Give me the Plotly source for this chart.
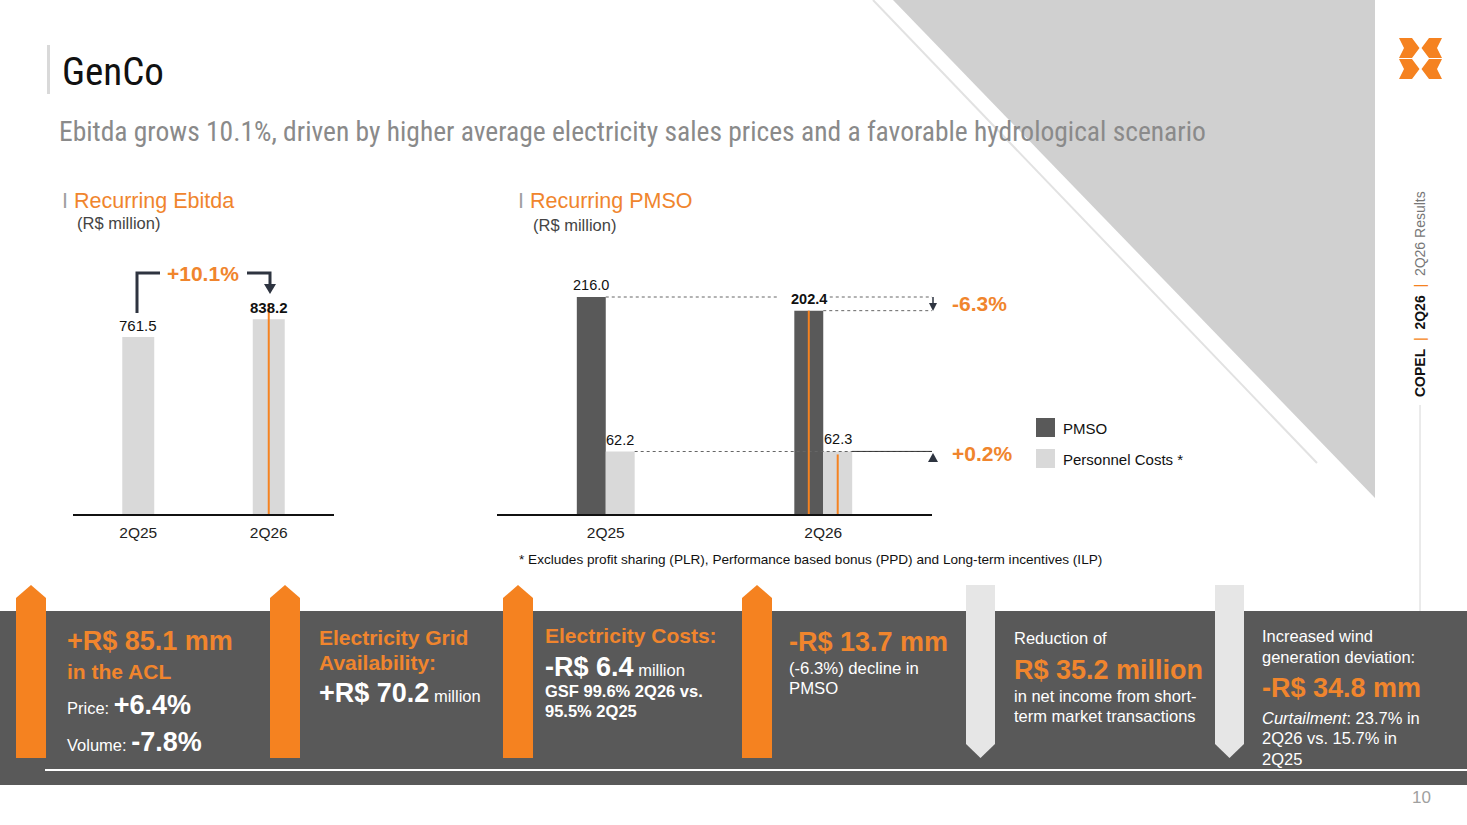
import plotly.graph_objects as go

# ---- data ----
quarters = ["2Q25", "2Q26"]
ebitda = [761.5, 838.2]
pmso = [216.0, 202.4]
personnel = [62.2, 62.3]
ebitda_var = "+10.1%"
pmso_var = "-6.3%"
personnel_var = "+0.2%"

W, H = 1467, 825
ORANGE = "#F58220"
ORANGE_TXT = "#F0852D"
DARK = "#595959"
LIGHT = "#D9D9D9"
NAVY = "#2E3440"
FONT = "Liberation Sans, Arial, sans-serif"
NARROW = "Roboto Condensed, DejaVu Sans Condensed, Liberation Sans, sans-serif"


def X(p):
    return p / W


def Y(p):
    return 1 - p / H


idx = list(range(len(quarters)))
BW = 0.133  # width of each PMSO bar (category units)

fig = go.Figure()

# Recurring Ebitda
fig.add_trace(go.Bar(x=idx, y=ebitda, xaxis="x", yaxis="y", width=0.245,
                     marker=dict(color=LIGHT, line=dict(width=0)),
                     hoverinfo="skip", showlegend=False))
# Recurring PMSO
fig.add_trace(go.Bar(x=idx, y=pmso, xaxis="x2", yaxis="y2", width=BW, offset=-BW,
                     marker=dict(color=DARK, line=dict(width=0)), name="PMSO",
                     hoverinfo="skip", showlegend=False))
fig.add_trace(go.Bar(x=idx, y=personnel, xaxis="x2", yaxis="y2", width=BW, offset=0,
                     marker=dict(color=LIGHT, line=dict(width=0)), name="Personnel Costs *",
                     hoverinfo="skip", showlegend=False))

shapes = []
ann = []


def text(x, y, s, size, color="#333", anchor="left", family=FONT, **kw):
    ann.append(dict(x=X(x), y=Y(y), xref="paper", yref="paper", text=s, showarrow=False,
                    xanchor=anchor, yanchor="middle",
                    font=dict(family=family, size=size, color=color), **kw))


def path(pts, fill, layer="above"):
    d = "M " + " L ".join(f"{X(a)},{Y(b)}" for a, b in pts) + " Z"
    shapes.append(dict(type="path", path=d, xref="paper", yref="paper",
                       fillcolor=fill, line=dict(width=0), layer=layer))


def seg(x0, y0, x1, y1, color, width=1, dash="solid", layer="above"):
    shapes.append(dict(type="line", xref="paper", yref="paper", x0=X(x0), y0=Y(y0),
                       x1=X(x1), y1=Y(y1), line=dict(color=color, width=width, dash=dash),
                       layer=layer))


# background decoration
path([(893, 0), (1375, 0), (1375, 498)], "#D0D0D0", layer="below")
seg(873, 0, 1317, 463, "#E2E2E2", 2, layer="below")
seg(1420, 405, 1420, 611, "#D6D6D6", 1, layer="below")
shapes.append(dict(type="rect", xref="paper", yref="paper", x0=X(47), x1=X(50), y0=Y(94), y1=Y(45),
                   fillcolor="#D9D9D9", line=dict(width=0)))

# logo
for dy in (0, 21):
    path([(1399, 38 + dy), (1412, 38 + dy), (1419.5, 48 + dy), (1412, 58 + dy), (1399, 58 + dy), (1404, 48 + dy)], ORANGE)
    path([(1442, 38 + dy), (1429, 38 + dy), (1421.5, 48 + dy), (1429, 58 + dy), (1442, 58 + dy), (1437, 48 + dy)], ORANGE)

# header texts
text(60, 72, "GenCo", 39, "#111", family=NARROW)
text(57, 131, "Ebitda grows 10.1%, driven by higher average electricity sales prices and a favorable hydrological scenario",
     27.5, "#8A8A8A", family=NARROW)
text(60, 201, "<span style='color:#A0A0A0'>I</span> Recurring Ebitda", 21.5, ORANGE_TXT)
text(75, 223, "(R$ million)", 16.5, "#444")
text(516, 201, "<span style='color:#A0A0A0'>I</span> Recurring PMSO", 21.5, ORANGE_TXT)
text(531, 225, "(R$ million)", 16.5, "#444")
text(1420, 294, "<b>COPEL</b>  <span style='color:#F58220'>|</span>  <b>2Q26</b>  <span style='color:#F58220'>|</span>  <span style='color:#777'>2Q26 Results</span>",
     14, "#111", anchor="center", textangle=-90)
text(1421, 797, "10", 17, "#A0A0A0", anchor="center")

# ---- left chart annotations ----
for i, v in enumerate(ebitda):
    lbl = f"{v:.1f}" if i == 0 else f"<b>{v:.1f}</b>"
    ann.append(dict(x=i, y=v, xref="x", yref="y", text=lbl, showarrow=False, yanchor="bottom",
                    yshift=1, font=dict(family=FONT, size=15, color="#111")))
shapes.append(dict(type="line", xref="x", yref="y", x0=1, x1=1, y0=0, y1=ebitda[1] * 1.083,
                   line=dict(color=ORANGE, width=2)))
# bracket
shapes.append(dict(type="path", xref="paper", yref="paper",
                   path=f"M {X(137)},{Y(313)} L {X(137)},{Y(273)} L {X(160)},{Y(273)}",
                   line=dict(color=NAVY, width=3)))
shapes.append(dict(type="path", xref="paper", yref="paper",
                   path=f"M {X(247)},{Y(273)} L {X(270)},{Y(273)} L {X(270)},{Y(286)}",
                   line=dict(color=NAVY, width=3)))
path([(264, 284), (276, 284), (270, 294)], NAVY)
text(203, 273, f"<b>{ebitda_var}</b>", 21, ORANGE_TXT, anchor="center")

# ---- right chart annotations ----
for i in idx:
    for v, off in ((pmso[i], -BW / 2), (personnel[i], BW / 2)):
        lbl = f"<b>{v:.1f}</b>" if (i == 1 and off < 0) else f"{v:.1f}"
        ann.append(dict(x=i + off, y=v, xref="x2", yref="y2", text=lbl, showarrow=False,
                        yanchor="bottom", yshift=2, font=dict(family=FONT, size=14.5, color="#111")))
XE = 1.505
dotted = dict(color="#666", width=1, dash="dot")
for x0, x1, yv in ((0, 0.80, pmso[0]), (1.03, XE, pmso[0]), (1, XE, pmso[1]), (BW, XE, personnel[0])):
    shapes.append(dict(type="line", xref="x2", yref="y2", x0=x0, x1=x1, y0=yv, y1=yv, line=dotted))
shapes.append(dict(type="line", xref="x2", yref="y2", x0=1 + BW, x1=XE, y0=personnel[1], y1=personnel[1],
                   line=dict(color="#333", width=1)))
shapes.append(dict(type="line", xref="x2", yref="y2", x0=1 - BW / 2, x1=1 - BW / 2, y0=0, y1=pmso[1],
                   line=dict(color=ORANGE, width=2)))
shapes.append(dict(type="line", xref="x2", yref="y2", x0=1 + BW / 2, x1=1 + BW / 2, y0=0, y1=personnel[1] - 3,
                   line=dict(color=ORANGE, width=2)))
seg(933, 297, 933, 305, NAVY, 1.5)
path([(929, 303), (937, 303), (933, 311)], NAVY)
path([(928, 462), (938, 462), (933, 453)], NAVY)
text(950, 304, f"<b>{pmso_var}</b>", 21, ORANGE_TXT)
text(950, 453, f"<b>{personnel_var}</b>", 21, ORANGE_TXT)

# legend
shapes.append(dict(type="rect", xref="paper", yref="paper", x0=X(1036), x1=X(1055), y0=Y(437), y1=Y(418),
                   fillcolor=DARK, line=dict(width=0)))
shapes.append(dict(type="rect", xref="paper", yref="paper", x0=X(1036), x1=X(1055), y0=Y(468), y1=Y(449),
                   fillcolor=LIGHT, line=dict(width=0)))
text(1061, 428, "PMSO", 15, "#111")
text(1061, 459, "Personnel Costs *", 15, "#111")
text(517, 559, "* Excludes profit sharing (PLR), Performance based bonus (PPD) and Long-term incentives (ILP)", 13.6, "#111")

# ---- bottom panel ----
shapes.append(dict(type="rect", xref="paper", yref="paper", x0=0, x1=1, y0=Y(785), y1=Y(611),
                   fillcolor=DARK, line=dict(width=0), layer="below"))
seg(45, 770, 1467, 770, "white", 2)
for x0 in (16, 270, 503, 742):
    path([(x0, 758), (x0, 598), (x0 + 15, 585), (x0 + 30, 598), (x0 + 30, 758)], ORANGE)
for x0 in (966, 1215):
    path([(x0, 585), (x0 + 29, 585), (x0 + 29, 744), (x0 + 14.5, 758), (x0, 744)], "#E6E6E6")

WH = "white"
B = lambda s, n: f"<span style='font-size:{n}px'><b>{s}</b></span>"
text(65, 641, "<b>+R$ 85.1 mm</b>", 27, ORANGE_TXT)
text(65, 671, "<b>in the ACL</b>", 21, ORANGE_TXT)
text(65, 705, "Price: " + B("+6.4%", 27), 16.5, WH)
text(65, 742, "Volume: " + B("-7.8%", 27), 16.5, WH)

text(317, 637, "<b>Electricity Grid</b>", 21, ORANGE_TXT)
text(317, 662, "<b>Availability:</b>", 21, ORANGE_TXT)
text(317, 693, B("+R$ 70.2", 27) + " million", 16.5, WH)

text(543, 635, "<b>Electricity Costs:</b>", 21, ORANGE_TXT)
text(543, 667, B("-R$ 6.4", 27) + " million", 16.5, WH)
text(543, 691, "<b>GSF 99.6% 2Q26 vs.</b>", 16.5, WH)
text(543, 711, "<b>95.5% 2Q25</b>", 16.5, WH)

text(787, 642, "<b>-R$ 13.7 mm</b>", 27, ORANGE_TXT)
text(787, 668, "(-6.3%) decline in", 16.7, WH)
text(787, 688, "PMSO", 16.7, WH)

text(1012, 638, "Reduction of", 16.5, WH)
text(1012, 670, "<b>R$ 35.2 million</b>", 27, ORANGE_TXT)
text(1012, 696, "in net income from short-", 16.5, WH)
text(1012, 716, "term market transactions", 16.5, WH)

text(1260, 636, "Increased wind", 16.5, WH)
text(1260, 657, "generation deviation:", 16.5, WH)
text(1260, 688, "<b>-R$ 34.8 mm</b>", 27, ORANGE_TXT)
text(1260, 718, "<i>Curtailment</i>: 23.7% in", 16.5, WH)
text(1260, 738, "2Q26 vs. 15.7% in", 16.5, WH)
text(1260, 759, "2Q25", 16.5, WH)

axis_common = dict(showgrid=False, zeroline=False, ticks="", fixedrange=True,
                   showline=True, linecolor="#111", linewidth=1.5,
                   tickfont=dict(family=FONT, size=15.5, color="#222"), ticklabelstandoff=4)
fig.update_layout(
    width=W, height=H,
    margin=dict(l=0, r=0, t=0, b=0),
    paper_bgcolor="white", plot_bgcolor="rgba(0,0,0,0)",
    barmode="overlay", showlegend=False,
    font=dict(family=FONT),
    xaxis=dict(domain=[X(73), X(334)], range=[-0.5, 1.5], tickvals=idx, ticktext=quarters,
               anchor="y", **axis_common),
    yaxis=dict(domain=[Y(514), Y(250)], range=[0, 264 / 0.2324], visible=False, fixedrange=True),
    xaxis2=dict(domain=[X(497), X(932)], range=[-0.5, 1.5], tickvals=idx, ticktext=quarters,
                anchor="y2", **axis_common),
    yaxis2=dict(domain=[Y(514), Y(250)], range=[0, 264 / 1.0046], visible=False, fixedrange=True),
    shapes=shapes,
    annotations=ann,
)

# the page's default 8px body margin would shift the slide; remove it
fig.write_html("out.html", config={"displayModeBar": False},
               post_script="document.body.style.margin='0';")
